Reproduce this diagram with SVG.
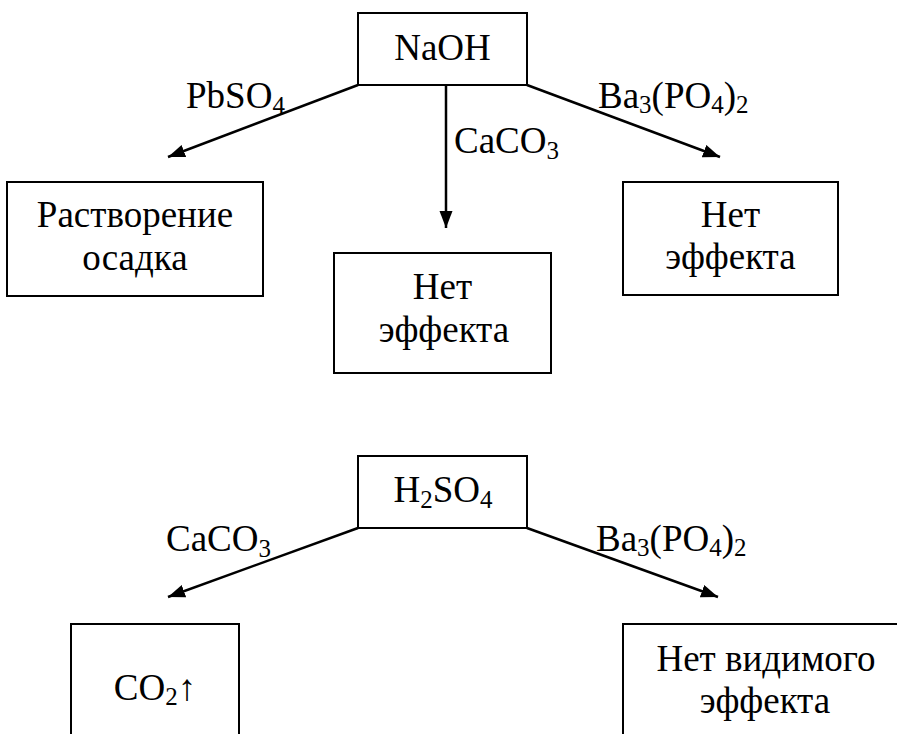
<svg xmlns="http://www.w3.org/2000/svg" width="897" height="734" viewBox="0 0 897 734">
<style>
  .box { fill: #fff; stroke: #000; stroke-width: 2; }
  .t { font-family: "Liberation Serif", "Times New Roman", serif; font-size: 37px; fill: #000; }
  .c { text-anchor: middle; }
  .sub { font-size: 25px; }
  .conn { stroke: #000; stroke-width: 2.5; fill: none; marker-end: url(#ah); }
</style>
<defs>
  <marker id="ah" markerUnits="userSpaceOnUse" markerWidth="18" markerHeight="14" refX="17" refY="6.5" orient="auto">
    <path d="M0,0 L17,6.5 L0,13 z" fill="#000"/>
  </marker>
</defs>
<rect width="897" height="734" fill="#fff"/>

<g id="connectors">
  <line class="conn" x1="358" y1="85" x2="168" y2="157"/>
  <line class="conn" x1="446" y1="85" x2="446" y2="228"/>
  <line class="conn" x1="527" y1="85" x2="720" y2="157"/>
  <line class="conn" x1="358" y1="528" x2="168" y2="597"/>
  <line class="conn" x1="527" y1="528" x2="718" y2="597"/>
</g>

<g id="labels">
  <text class="t" x="186" y="108">PbSO<tspan class="sub" dy="6">4</tspan></text>
  <text class="t" x="598" y="108">Ba<tspan class="sub" dy="5">3</tspan><tspan dy="-5">(PO</tspan><tspan class="sub" dy="5">4</tspan><tspan dy="-5">)</tspan><tspan class="sub" dy="5">2</tspan></text>
  <text class="t" x="454" y="153">CaCO<tspan class="sub" dy="6">3</tspan></text>
  <text class="t" x="166" y="551">CaCO<tspan class="sub" dy="6">3</tspan></text>
  <text class="t" x="596" y="551">Ba<tspan class="sub" dy="5">3</tspan><tspan dy="-5">(PO</tspan><tspan class="sub" dy="5">4</tspan><tspan dy="-5">)</tspan><tspan class="sub" dy="5">2</tspan></text>
</g>

<g id="naoh">
  <rect class="box" x="358" y="13" width="169" height="72"/>
  <text class="t c" x="442.5" y="60">NaOH</text>
</g>

<g id="rastvorenie">
  <rect class="box" x="7" y="182" width="256" height="114"/>
  <text class="t c" x="135" y="227">Растворение</text>
  <text class="t c" x="135" y="270">осадка</text>
</g>

<g id="net-effekta-1">
  <rect class="box" x="334" y="253" width="217" height="120"/>
  <text class="t c" x="442.5" y="299">Нет</text>
  <text class="t c" x="444" y="342">эффекта</text>
</g>

<g id="net-effekta-2">
  <rect class="box" x="623" y="182" width="215" height="113"/>
  <text class="t c" x="730.5" y="227">Нет</text>
  <text class="t c" x="730.5" y="269">эффекта</text>
</g>

<g id="h2so4">
  <rect class="box" x="358" y="456" width="169" height="72"/>
  <text class="t c" x="443" y="502">H<tspan class="sub" dy="6">2</tspan><tspan dy="-6">SO</tspan><tspan class="sub" dy="6">4</tspan></text>
</g>

<g id="co2">
  <rect class="box" x="71" y="624" width="168" height="140"/>
  <text class="t c" x="155" y="700">CO<tspan class="sub" dy="5">2</tspan><tspan dy="-5">↑</tspan></text>
</g>

<g id="net-vidimogo">
  <rect class="box" x="623" y="624" width="290" height="140"/>
  <text class="t c" x="766" y="671">Нет видимого</text>
  <text class="t c" x="765" y="713">эффекта</text>
</g>
</svg>
